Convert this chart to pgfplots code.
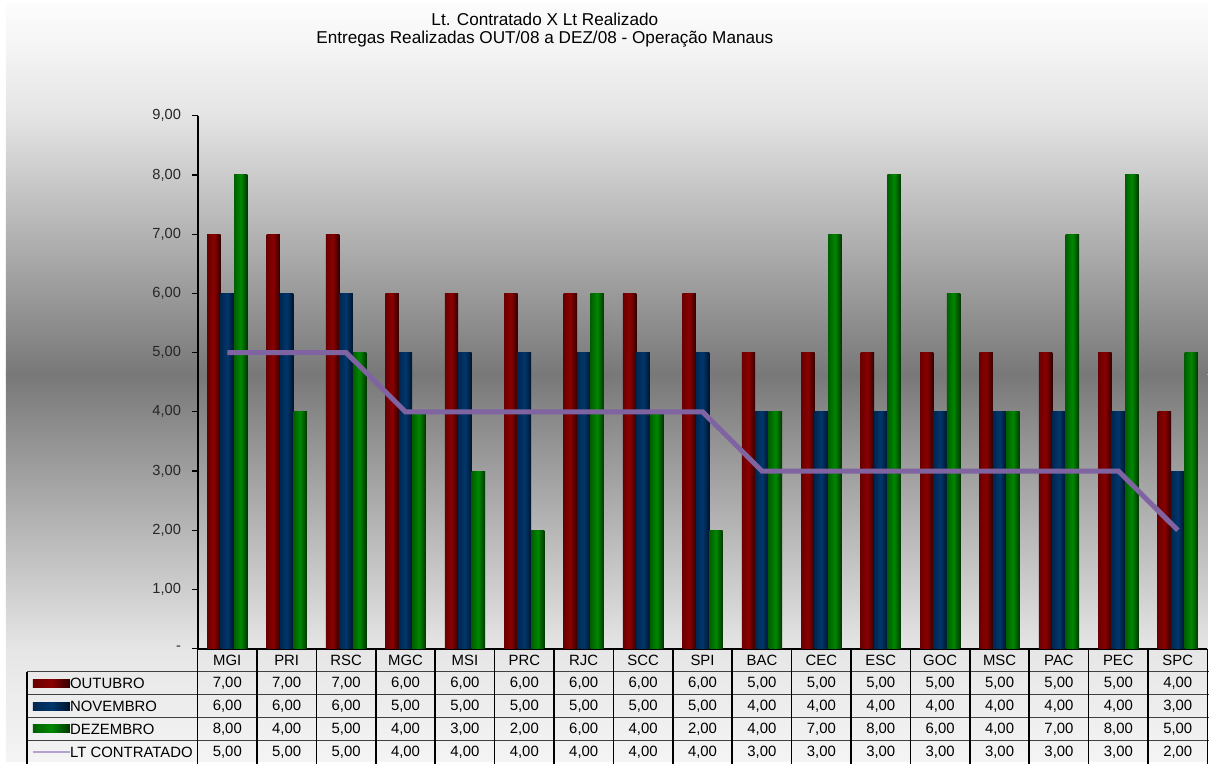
\documentclass[border=0pt]{standalone}
\usepackage{fontspec}
\setmainfont{Liberation Sans}
\usepackage{pgfplots}
\usepackage{pgfplotstable}
\pgfplotsset{compat=1.18}

\definecolor{g0}{RGB}{252,252,252}
\definecolor{g1}{RGB}{246,246,246}
\definecolor{g2}{RGB}{228,228,228}
\definecolor{g3}{RGB}{120,120,120}
\definecolor{g4}{RGB}{230,230,230}
\definecolor{g5}{RGB}{244,244,244}
\definecolor{redL}{RGB}{105,0,0}
\definecolor{redM}{RGB}{138,0,0}
\definecolor{redR}{RGB}{50,0,0}
\definecolor{bluL}{RGB}{0,38,80}
\definecolor{bluM}{RGB}{0,55,108}
\definecolor{bluR}{RGB}{0,20,45}
\definecolor{grnL}{RGB}{0,95,0}
\definecolor{grnM}{RGB}{0,135,0}
\definecolor{grnR}{RGB}{0,55,0}
\definecolor{ltline}{RGB}{128,100,162}
\definecolor{ltkey}{RGB}{180,160,210}

\pgfplotstableread{
cat out nov dez lt
MGI 7 6 8 5
PRI 7 6 4 5
RSC 7 6 5 5
MGC 6 5 4 4
MSI 6 5 3 4
PRC 6 5 2 4
RJC 6 5 6 4
SCC 6 5 4 4
SPI 6 5 2 4
BAC 5 4 4 3
CEC 5 4 7 3
ESC 5 4 8 3
GOC 5 4 6 3
MSC 5 4 4 3
PAC 5 4 7 3
PEC 5 4 8 3
SPC 4 3 5 2
}\data

\newcommand\tabfont{\fontsize{11.2}{13}\selectfont}

\begin{document}
\begin{tikzpicture}
\begin{scope}[x=0.75pt,y=-0.75pt]
\useasboundingbox (0,0) rectangle (1210,763);
\fill[top color=g0,bottom color=g1] (6,4) rectangle (1210,40.6);
\fill[top color=g1,bottom color=g2] (6,40) rectangle (1210,116.6);
\fill[top color=g2,bottom color=g3] (6,116) rectangle (1210,375.6);
\fill[top color=g3,bottom color=g4] (6,375) rectangle (1210,650.6);
\fill[top color=g4,bottom color=g5] (6,650) rectangle (1210,763);
\end{scope}

\begin{axis}[
  at={(148.5pt,-487.5pt)}, anchor=south west,
  scale only axis, width=759pt, height=400.5pt,
  xmin=-0.5, xmax=16.5, ymin=0, ymax=9,
  axis x line*=bottom, axis y line*=left,
  axis line style={line width=1.5pt, black},
  xtick=\empty,
  ytick={0,1,2,3,4,5,6,7,8,9},
  yticklabels={-,{1,00},{2,00},{3,00},{4,00},{5,00},{6,00},{7,00},{8,00},{9,00}},
  tick align=outside, major tick length=4.5pt,
  tick style={black, line width=0.8pt},
  yticklabel style={font=\fontsize{11}{13}\selectfont, xshift=-4.5pt, text=black!85},
  clip=false,
]
\pgfplotsinvokeforeach{0,...,16}{
\addplot[ybar, bar width=10.1pt, bar shift=-10.1pt, draw=none,
  left color=redL, right color=redR, middle color=redM,
  restrict x to domain=#1:#1]
  table[x expr=\coordindex, y=out]{\data};
\addplot[ybar, bar width=10.1pt, bar shift=0pt, draw=none,
  left color=bluL, right color=bluR, middle color=bluM,
  restrict x to domain=#1:#1]
  table[x expr=\coordindex, y=nov]{\data};
\addplot[ybar, bar width=10.1pt, bar shift=10.1pt, draw=none,
  left color=grnL, right color=grnR, middle color=grnM,
  restrict x to domain=#1:#1]
  table[x expr=\coordindex, y=dez]{\data};
}
\addplot[no markers, color=ltline, line width=3.75pt]
  table[x expr=\coordindex, y=lt]{\data};
\end{axis}

\begin{scope}[x=0.75pt,y=-0.75pt]
% title
\node[font=\fontsize{12.9}{15}\selectfont] at (546,19) {Lt. Contratado X Lt Realizado};
\node[font=\fontsize{12.9}{15}\selectfont] at (546,39) {Entregas Realizadas OUT/08 a DEZ/08 - Operação Manaus};
% table grid
\foreach \yy in {673,696,719,742}
  \draw[line width=0.8pt, black!75] (27,\yy) -- (1212,\yy);
\draw[line width=1pt] (27,673) -- (27,766);
\foreach \k in {0,...,17}
  \draw[line width=1.2pt] ({198+\k*59.529},650) -- ({198+\k*59.529},766);
% legend keys
\fill[left color=redL, right color=redR, middle color=redM] (33,680.5) rectangle (70,688.5);
\fill[left color=bluL, right color=bluR, middle color=bluM] (33,703.5) rectangle (70,711.5);
\fill[left color=grnL, right color=grnR, middle color=grnM] (33,726.5) rectangle (70,734.5);
\draw[ltkey, line width=1pt] (33,753.5) -- (70,753.5);
\node[font=\tabfont, anchor=west, inner sep=0pt] at (70,684.5) {OUTUBRO};
\node[font=\tabfont, anchor=west, inner sep=0pt] at (70,707.5) {NOVEMBRO};
\node[font=\tabfont, anchor=west, inner sep=0pt] at (70,730.5) {DEZEMBRO};
\node[font=\tabfont, anchor=west, inner sep=0pt] at (70,753.5) {LT CONTRATADO};
% table contents
\foreach \i in {0,...,16}{
  \pgfmathsetmacro\xx{198+(\i+0.5)*59.529}
  \pgfplotstablegetelem{\i}{cat}\of\data
  \node[font=\tabfont] at (\xx,661.5) {\pgfplotsretval};
  \foreach \c/\yy in {out/684.5,nov/707.5,dez/730.5,lt/753.5}{
    \pgfplotstablegetelem{\i}{\c}\of\data
    \node[font=\tabfont] at (\xx,\yy) {\pgfmathprintnumber[fixed,fixed zerofill,precision=2,use comma,assume math mode=true]{\pgfplotsretval}};
  }
}
\end{scope}
\end{tikzpicture}
\end{document}
